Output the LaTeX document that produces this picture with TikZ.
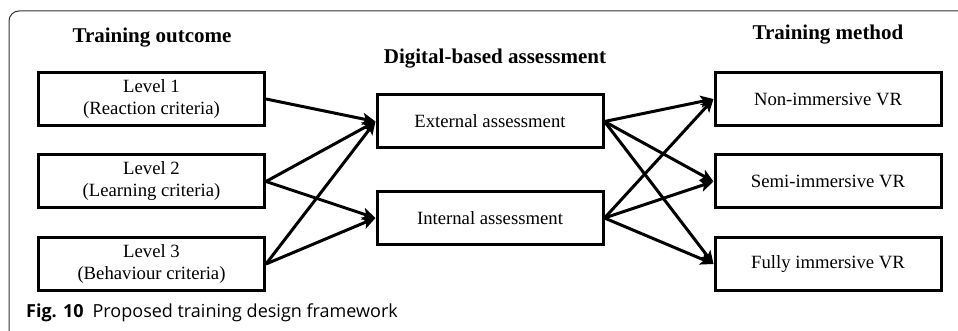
\documentclass[tikz,border=0pt]{standalone}
\usepackage{fontspec}
\setmainfont{Liberation Serif}
\newfontfamily\capfont{Open Sans}
\usetikzlibrary{arrows.meta}
\begin{document}
\begin{tikzpicture}[x=1pt, y=-1pt,
                box/.style = {draw, line width=3pt, minimum width=226pt, minimum height=53pt,
                              align=center, font=\fontsize{18.7}{22}\selectfont, inner sep=0pt},
                title/.style = {font=\fontsize{21}{24}\selectfont\bfseries},
                link/.style = {line width=3pt, -{Stealth[length=13pt, width=12pt, inset=3pt]}}
            ]
            \useasboundingbox (0,0) rectangle (958,331);
            \draw[line width=1pt, black!80, rounded corners=10pt] (9,331) -- (9,11) -- (958,11);
            % titles
            \node[title] (toutcome) at (152,38) {Training outcome};
            \node[title] (dassess) at (495,59) {Digital-based assessment};
            \node[title] (tmethod) at (828,35) {Training method};
            % boxes
            \node[box] (lev1) at (151.5,99) {Level 1\\(Reaction criteria)};
            \node[box] (lev2) at (151.5,181.5) {Level 2\\(Learning criteria)};
            \node[box] (lev3) at (151.5,264) {Level 3\\(Behaviour criteria)};
            \node[box] (ext) at (490,121.5) {External assessment};
            \node[box] (int) at (490,218) {Internal assessment};
            \node[box] (nonvr) at (828,99) {Non-immersive VR};
            \node[box] (semivr) at (828,181.5) {Semi-immersive VR};
            \node[box] (fullvr) at (828,264) {Fully immersive VR};
            % arrows
            \draw[link] (lev1.east) -- (ext.west);
            \draw[link] (lev2.east) -- (ext.west);
            \draw[link] (lev2.east) -- (int.west);
            \draw[link] (lev3.east) -- (ext.west);
            \draw[link] (lev3.east) -- (int.west);
            \foreach \src in {ext,int}
                \foreach \dst in {nonvr,semivr,fullvr}
                    \draw[link] (\src.east) -- (\dst.west);
            % caption
            \node[anchor=west, inner sep=0pt, font=\capfont\fontsize{18}{21}\selectfont] (cap) at (26,313)
                {\textbf{Fig. 10}\enspace Proposed training design framework};
        \end{tikzpicture}
\end{document}
